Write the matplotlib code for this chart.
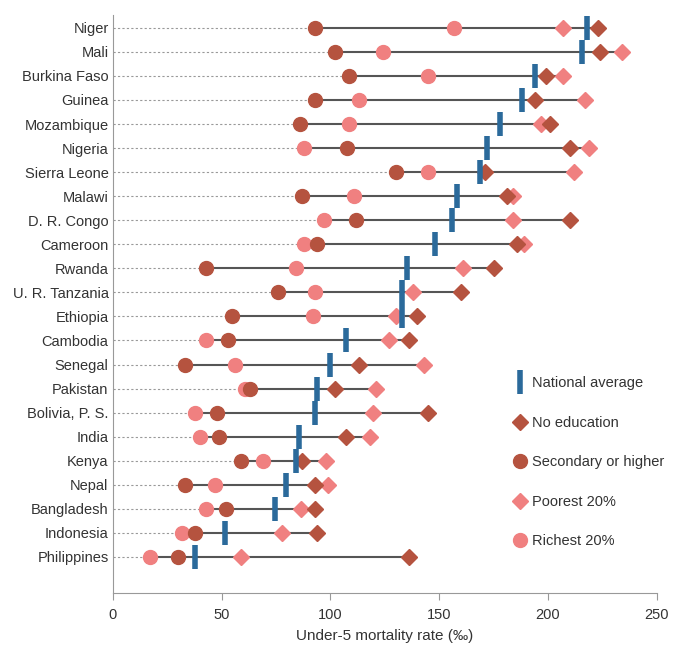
import matplotlib.pyplot as plt
from matplotlib.lines import Line2D

countries = ["Niger", "Mali", "Burkina Faso", "Guinea", "Mozambique", "Nigeria",
             "Sierra Leone", "Malawi", "D. R. Congo", "Cameroon", "Rwanda",
             "U. R. Tanzania", "Ethiopia", "Cambodia", "Senegal", "Pakistan",
             "Bolivia, P. S.", "India", "Kenya", "Nepal", "Bangladesh",
             "Indonesia", "Philippines"]
national = [218, 215.5, 194, 188, 178, 172, 168.6, 158, 156, 148, 135, 133, 133,
            107, 100, 94, 93, 85.5, 84, 79.5, 74.5, 51.5, 37.7]
no_educ = [223, 224, 199, 194, 201, 210, 171, 181, 210, 186, 175, 160, 140,
           136, 113, 102, 145, 107, 87, 93, 93, 94, 136]
secondary = [93, 102, 108.5, 93, 86, 107.5, 130, 87, 112, 94, 43, 76, 55,
             53, 33, 63, 48, 49, 59, 33, 52, 38, 30]
poorest = [207, 234, 207, 217, 197, 219, 212, 184, 184, 189, 161, 138, 130,
           127, 143, 121, 119.5, 118, 98, 99, 86.5, 78, 59]
richest = [157, 124, 145, 113, 108.5, 88, 145, 111, 97, 88, 84, 93, 92,
           43, 56, 61, 38, 40, 69, 47, 43, 32, 17]

dark = "#B5533F"
pink = "#F08080"
blue = "#2B6A9B"

plt.rcParams['font.family'] = ['Liberation Sans', 'DejaVu Sans']

fig = plt.figure(figsize=(6.75, 6.46), dpi=100)
ax = fig.add_axes([0.167, 0.082, 0.806, 0.895])

for i, c in enumerate(countries):
    vals = [no_educ[i], secondary[i], poorest[i], richest[i]]
    lo, hi = min(vals), max(vals)
    ax.plot([0, lo], [i, i], color="#999999", lw=0.8, ls=(0, (2, 2)), zorder=1)
    ax.plot([lo, hi], [i, i], color="#555555", lw=1.5, zorder=2)

y = range(len(countries))
ax.plot(richest, y, "o", color=pink, ms=10, ls="none", zorder=3)
ax.plot(secondary, y, "o", color=dark, ms=10, ls="none", zorder=3)
ax.plot(poorest, y, "D", color=pink, ms=8.5, ls="none", zorder=3)
ax.plot(no_educ, y, "D", color=dark, ms=8.5, ls="none", zorder=3)
ax.plot(national, y, "|", color=blue, ms=17, mew=4, ls="none", zorder=4)

ax.set_xlim(0, 250)
ax.set_ylim(len(countries) + 0.5, -0.54)
ax.set_yticks(list(y))
ax.set_yticklabels(countries, fontsize=10.5, color="#333333")
ax.tick_params(axis="y", length=0, pad=3)
ax.set_xticks([0, 50, 100, 150, 200, 250])
ax.tick_params(axis="x", direction="out", length=5, color="#999999",
               labelsize=10.5, labelcolor="#333333", pad=6)
ax.set_xlabel("Under-5 mortality rate (‰)", fontsize=11, color="#333333", labelpad=5)
for s in ["top", "right"]:
    ax.spines[s].set_visible(False)
for s in ["left", "bottom"]:
    ax.spines[s].set_color("#999999")

handles = [
    Line2D([], [], marker="|", color=blue, ms=17, mew=4, ls="none"),
    Line2D([], [], marker="D", color=dark, ms=8.5, ls="none"),
    Line2D([], [], marker="o", color=dark, ms=10, ls="none"),
    Line2D([], [], marker="D", color=pink, ms=8.5, ls="none"),
    Line2D([], [], marker="o", color=pink, ms=10, ls="none"),
]
labels = ["National average", "No education", "Secondary or higher",
          "Poorest 20%", "Richest 20%"]
ax.legend(handles, labels, loc="upper left", bbox_to_anchor=(0.725, 0.385),
          frameon=False, fontsize=10.5, labelspacing=1.75, handletextpad=0.3,
          handlelength=1.0, borderaxespad=0, labelcolor="#333333")

fig.savefig("out.png", dpi=100)
